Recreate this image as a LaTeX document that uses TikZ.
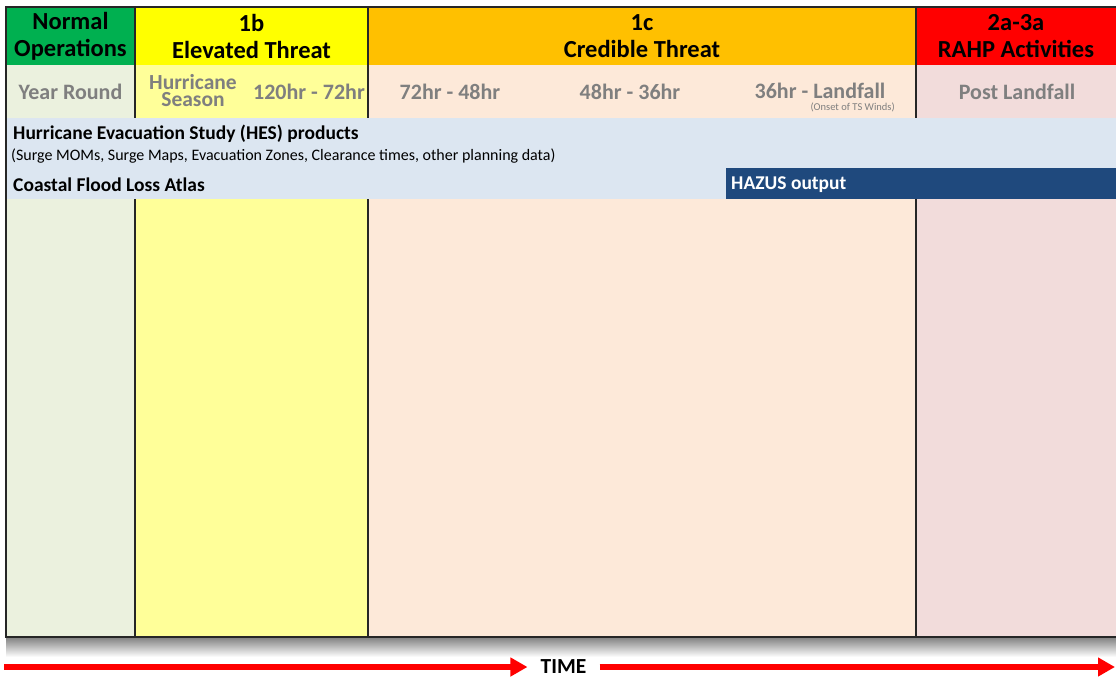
\documentclass[tikz,border=0pt]{standalone}
\usepackage{fontspec}
\setmainfont{Carlito}
\usetikzlibrary{arrows.meta}
\definecolor{hgreen}{HTML}{00B050}
\definecolor{hyellow}{HTML}{FFFF00}
\definecolor{horange}{HTML}{FFC000}
\definecolor{hred}{HTML}{FF0000}
\definecolor{bgreen}{HTML}{EBF1DE}
\definecolor{byellow}{HTML}{FFFF99}
\definecolor{bpeach}{HTML}{FDE9D9}
\definecolor{bpink}{HTML}{F2DCDB}
\definecolor{bandblue}{HTML}{DCE6F1}
\definecolor{hazus}{HTML}{1F497D}
\definecolor{tgray}{HTML}{7F7F7F}
\definecolor{framec}{HTML}{262626}
\begin{document}
\begin{tikzpicture}[x=1pt,y=-1pt,
  hdr/.style={font=\bfseries\fontsize{24.5}{27}\selectfont, align=center, text=black, inner sep=0pt},
  sub/.style={font=\bfseries\fontsize{22}{20}\selectfont, text=tgray, inner sep=0pt},
  bandtxt/.style={font=\bfseries\fontsize{19.5}{20}\selectfont, anchor=west, inner sep=0pt},
  frame/.style={draw=framec, line width=1.5pt},
  tarrow/.style={draw=hred, line width=5.5pt, -{Triangle[length=17pt,width=18pt]}}]
\useasboundingbox[fill=white] (0,0) rectangle (1116,677);
% shadow
\shade[top color=black!50, bottom color=white] (6,637) rectangle (1116,657);
% header cells
\fill[hgreen] (6,7) rectangle (135,65);
\fill[hyellow] (135,7) rectangle (368,65);
\fill[horange] (368,7) rectangle (916,65);
\fill[hred] (916,7) rectangle (1116,65);
% column bodies
\fill[bgreen] (6,65) rectangle (135,637);
\fill[byellow] (135,65) rectangle (368,637);
\fill[bpeach] (368,65) rectangle (916,637);
\fill[bpink] (916,65) rectangle (1116,637);
% column lines
\foreach \x in {135,368,916}{
  \draw[frame] (\x,7) -- (\x,118);
  \draw[frame] (\x,199) -- (\x,637);
}
% bands
\fill[bandblue] (6,118) rectangle (1116,199);
\fill[hazus] (726,168) rectangle (1116,199);
% frame
\draw[frame] (1116,7) -- (6,7) -- (6,637) -- (1116,637);
% header texts
\node[hdr] (h1) at (70.5,36) {Normal\\Operations};
\node[hdr] (h2) at (251.5,36) {1b\\Elevated Threat};
\node[hdr] (h3) at (642,36) {1c\\Credible Threat};
\node[hdr] (h4) at (1016,36) {2a-3a\\RAHP Activities};
% second row
\node[sub] (s1) at (70.5,92) {Year Round};
\node[sub, font=\bfseries\fontsize{21.5}{17}\selectfont, text height=11pt, text depth=3pt] (s2a) at (193,85.5) {Hurricane};
\node[sub, font=\bfseries\fontsize{21.5}{17}\selectfont, text height=11pt, text depth=3pt] (s2b) at (193,102.5) {Season};
\node[sub] (s3) at (309,92) {120hr - 72hr};
\node[sub] (s4) at (450,92) {72hr - 48hr};
\node[sub] (s5) at (630,92) {48hr - 36hr};
\node[sub] (s6) at (820,90.5) {36hr - Landfall};
\node[text=tgray, font=\fontsize{10.5}{11}\selectfont, anchor=east, inner sep=0pt, text height=6pt, text depth=1pt] (s6b) at (895,108) {(Onset of TS Winds)};
\node[sub] (s7) at (1017,92) {Post Landfall};
% band texts
\node[bandtxt] (hes) at (13,134) {Hurricane Evacuation Study (HES) products};
\node[bandtxt, font=\fontsize{16}{18}\selectfont] (hesb) at (11,156) {(Surge MOMs, Surge Maps, Evacuation Zones, Clearance times, other planning data)};
\node[bandtxt] (cfla) at (13,185) {Coastal Flood Loss Atlas};
\node[bandtxt, text=white] (hz) at (731,185) {HAZUS output};
% time arrows
\node[font=\bfseries\fontsize{21.5}{22}\selectfont, inner sep=0pt] (time) at (563.5,666.5) {TIME};
\coordinate (aL) at (4,667);
\coordinate (aR) at (1115,667);
\draw[tarrow, shorten >=13pt] (aL) -- (aL -| time.west);
\draw[tarrow, shorten <=13pt] (aR -| time.east) -- (aR);
\end{tikzpicture}
\end{document}
